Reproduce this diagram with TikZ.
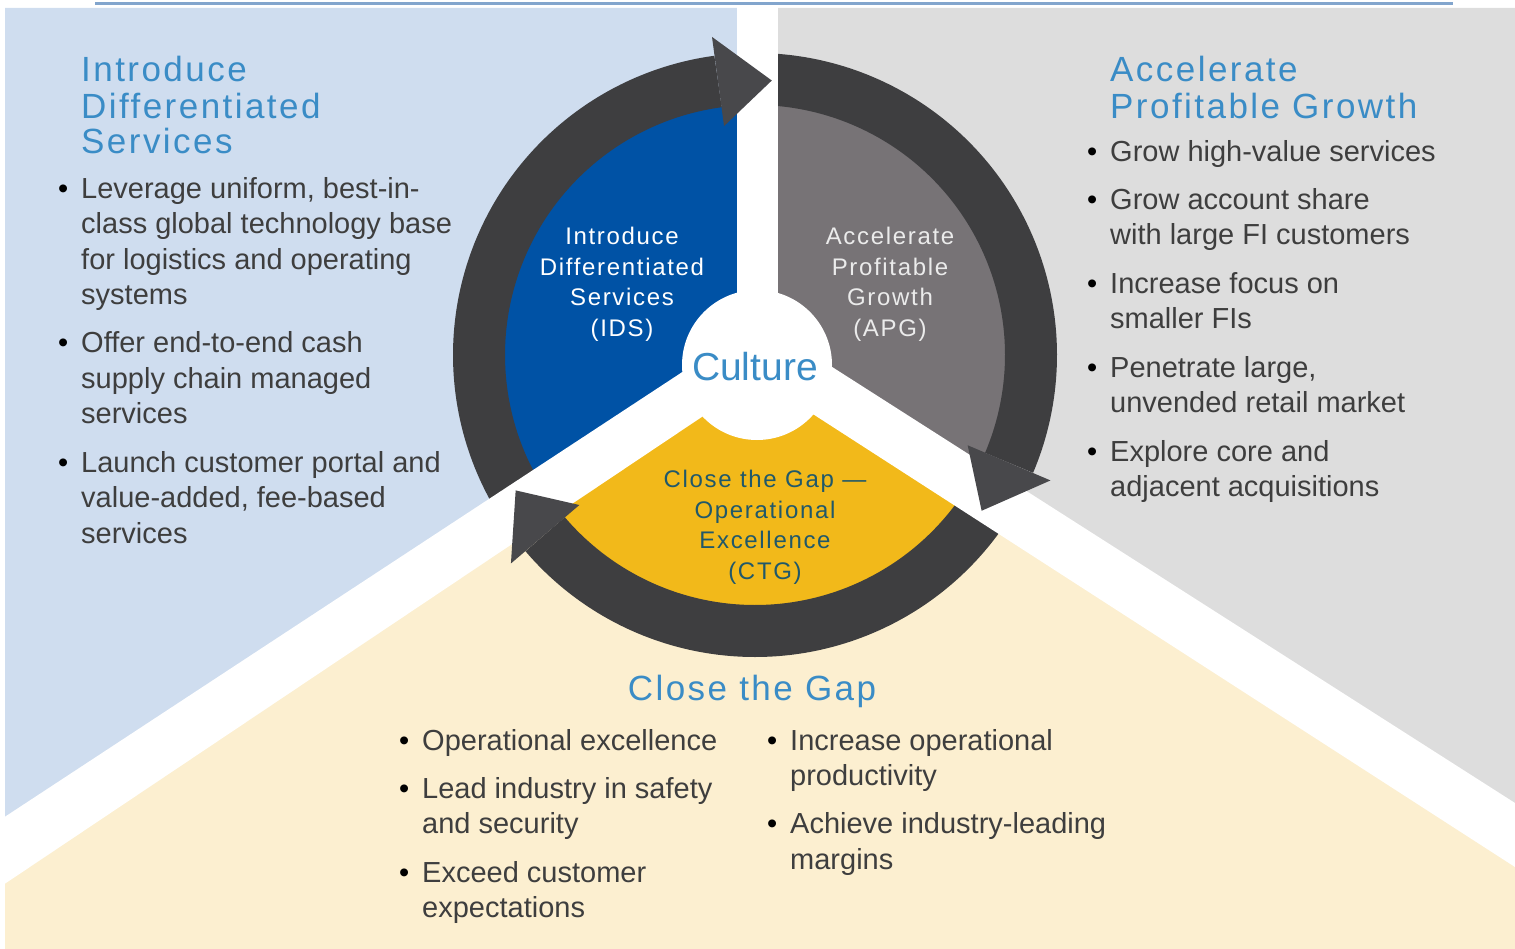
\documentclass[tikz,border=0pt]{standalone}
\usepackage{fontspec}
\setmainfont{Liberation Sans}
\newfontfamily\trackedfont[LetterSpace=7]{Liberation Sans}
\usetikzlibrary{positioning, calc}

\definecolor{panelblue}{RGB}{207,221,239}
\definecolor{panelgray}{RGB}{221,221,221}
\definecolor{panelyellow}{RGB}{252,239,208}
\definecolor{diskblue}{RGB}{0,82,165}
\definecolor{diskgray}{RGB}{119,115,118}
\definecolor{diskyellow}{RGB}{242,185,26}
\definecolor{ringdark}{RGB}{62,62,64}
\definecolor{tipdark}{RGB}{72,72,75}
\definecolor{titleblue}{RGB}{58,140,198}
\definecolor{bodytext}{RGB}{62,62,62}
\definecolor{ctgtext}{RGB}{32,88,106}
\definecolor{ruleblue}{RGB}{130,165,205}

\newcommand{\itm}[1]{\llap{\textcolor{black}{\textbullet}\hspace{13pt}}\strut#1\strut}

\tikzset{
  ring/.style={draw=ringdark, line width=52pt},
  tip/.style={fill=tipdark, draw=none},
  heading/.style={text=titleblue, font=\trackedfont\fontsize{35}{35.5}\selectfont, align=left, inner sep=0pt, anchor=north west},
  item/.style={text=bodytext, font=\fontsize{29}{35.5}\selectfont, align=left, inner sep=0pt, anchor=north west},
  disklabel/.style={font=\trackedfont\fontsize{24}{30.5}\selectfont, align=center, inner sep=0pt, anchor=north},
}

\begin{document}
\begin{tikzpicture}[x=1pt, y=-1pt]
\useasboundingbox (0,0) rectangle (1515,949);
\coordinate (C) at (755,355);
\coordinate (Y) at (757,352);

% three background panels
\fill[panelblue] (5,8) -- (757,8) -- (Y) -- (5,850) -- cycle;
\fill[panelgray] (757,8) -- (1515,8) -- (1515,835) -- (Y) -- cycle;
\fill[panelyellow] (5,850) -- (Y) -- (1515,835) -- (1515,949) -- (5,949) -- cycle;

% inner disk
\fill[diskblue] (C) -- ($(C)+(146:251)$) arc[start angle=146, end angle=270, radius=251] -- cycle;
\fill[diskgray] (C) -- ($(C)+(270:251)$) arc[start angle=270, end angle=393, radius=251] -- cycle;
\fill[diskyellow] (C) -- ($(C)+(33:251)$) arc[start angle=33, end angle=146, radius=251] -- cycle;

% ring arcs
\foreach \a/\b in {148/262.3, 270/383, 30/139.5}
  \draw[ring] ($(C)+(\a:276)$) arc[start angle=\a, end angle=\b, radius=276];

% white gaps
\fill[white] (737,0) rectangle (778,352);
\fill[white] (757,323) -- (0,820) -- (0,887) -- (757,380) -- cycle;
\fill[white] (757,319) -- (1515,803) -- (1515,867) -- (757,378) -- cycle;
\fill[white] (757,365) circle[radius=75];

% arrow heads
\foreach \b/\t in {262.3/273.5, 23/34.5, 139.5/150.5}
  \fill[tip] ($(C)+(\b:231)$) -- ($(C)+(\t:275)$) -- ($(C)+(\b:321)$) -- cycle;

\draw[ruleblue, line width=3pt] (95,4) -- (1453,4);

% disk labels
\node[disklabel, text=white] (ids) at (622,223) {\strut Introduce\\Differentiated\\Services\\(IDS)\strut};
\node[disklabel, text=white!92!black] (apg) at (890,223) {\strut Accelerate\\Profitable\\Growth\\(APG)\strut};
\node[disklabel, text=ctgtext] (ctg) at (765,466) {\strut Close the Gap —\\Operational\\Excellence\\(CTG)\strut};
\node[text=titleblue, font=\fontsize{39}{39}\selectfont, inner sep=0pt, anchor=base] (culture) at (755,381) {Culture};

% left panel
\node[heading] (idshead) at (81,55.5) {\strut Introduce\\Differentiated\\Services\strut};
\node[item] (ids1) at (81,173) {\itm{Leverage uniform, best-in-\\class global technology base\\for logistics and operating\\systems}};
\node[item, below right=12.5pt and 0pt of ids1.south west] (ids2) {\itm{Offer end-to-end cash\\supply chain managed\\services}};
\node[item, below right=12.5pt and 0pt of ids2.south west] (ids3) {\itm{Launch customer portal and\\value-added, fee-based\\services}};

% right panel
\node[heading] (apghead) at (1110,55.5) {\strut Accelerate\\Profitable Growth\strut};
\node[item] (apg1) at (1110,136) {\itm{Grow high-value services}};
\node[item, below right=12.5pt and 0pt of apg1.south west] (apg2) {\itm{Grow account share\\with large FI customers}};
\node[item, below right=12.5pt and 0pt of apg2.south west] (apg3) {\itm{Increase focus on\\smaller FIs}};
\node[item, below right=12.5pt and 0pt of apg3.south west] (apg4) {\itm{Penetrate large,\\unvended retail market}};
\node[item, below right=12.5pt and 0pt of apg4.south west] (apg5) {\itm{Explore core and\\adjacent acquisitions}};

% bottom panel
\node[text=titleblue, font=\trackedfont\fontsize{35}{35}\selectfont, inner sep=0pt, anchor=base] (ctghead) at (752,700) {Close the Gap};
\node[item] (ctg1) at (422,725) {\itm{Operational excellence}};
\node[item, below right=12.5pt and 0pt of ctg1.south west] (ctg2) {\itm{Lead industry in safety\\and security}};
\node[item, below right=12.5pt and 0pt of ctg2.south west] (ctg3) {\itm{Exceed customer\\expectations}};
\node[item] (ctg4) at (790,725) {\itm{Increase operational\\productivity}};
\node[item, below right=12.5pt and 0pt of ctg4.south west] (ctg5) {\itm{Achieve industry-leading\\margins}};
\end{tikzpicture}
\end{document}
